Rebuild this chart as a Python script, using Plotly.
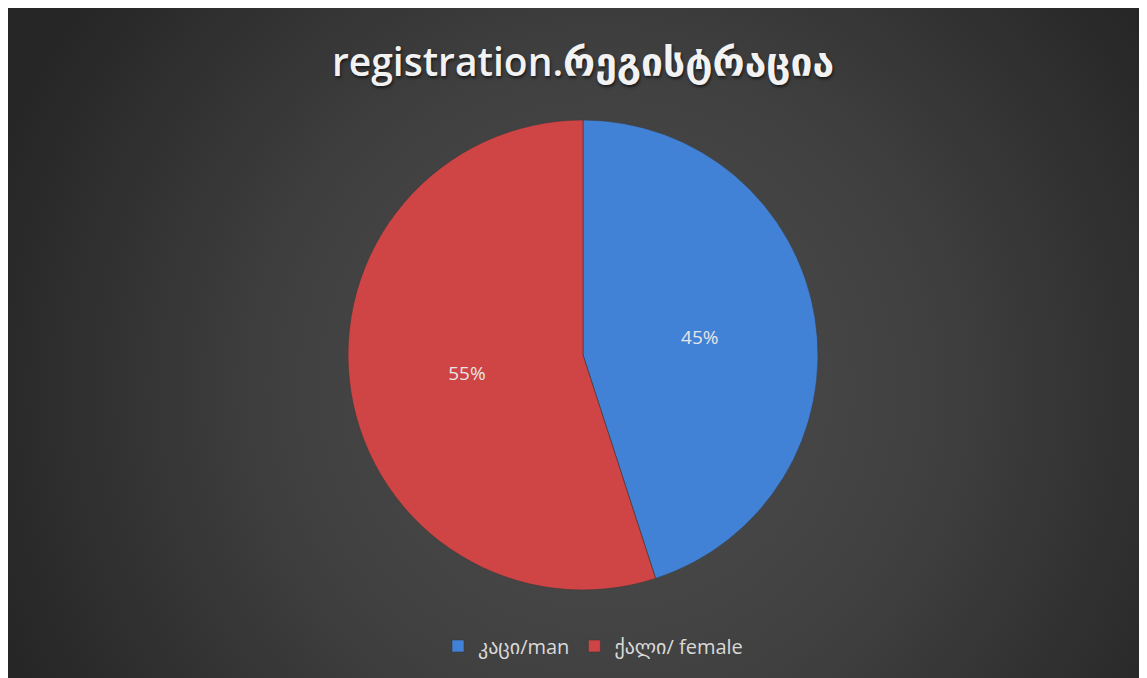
import plotly.graph_objects as go
import base64

labels = ["კაცი/man", "ქალი/ female"]
values = [45, 55]
colors = ["#4282d6", "#cf4444"]
title_text = "registration.რეგისტრაცია"

W, H = 1147, 678

svg = f'''<svg xmlns="http://www.w3.org/2000/svg" width="{W}" height="{H}" viewBox="0 0 {W} {H}" preserveAspectRatio="none">
<defs><radialGradient id="g" gradientUnits="userSpaceOnUse" cx="600" cy="380" r="650">
<stop offset="0" stop-color="#4d4d4d"/><stop offset="0.5" stop-color="#404040"/><stop offset="1" stop-color="#262626"/></radialGradient></defs>
<rect x="0" y="0" width="{W}" height="{H}" fill="url(#g)"/></svg>'''
src = "data:image/svg+xml;base64," + base64.b64encode(svg.encode()).decode()

# page body offset is ~8px; positions below are figure coordinates
cx, cy, r = 575, 347, 235

fig = go.Figure(go.Pie(
    labels=labels, values=values, sort=False, direction="clockwise", rotation=0,
    marker=dict(colors=colors, line=dict(color="#3a3a3a", width=0.6)),
    textinfo="percent", textposition="inside", insidetextorientation="horizontal",
    textfont=dict(color="#e6e6e6", size=19, family="Open Sans, DejaVu Sans"),
    domain=dict(x=[(cx - r) / W, (cx + r) / W], y=[(H - cy - r) / H, (H - cy + r) / H]),
    hoverinfo="label+percent",
))

fig.update_layout(
    width=W, height=H, autosize=False,
    margin=dict(l=0, r=0, t=0, b=0),
    paper_bgcolor="#333333", plot_bgcolor="#333333",
    images=[dict(source=src, xref="paper", yref="paper", x=0, y=1,
                 sizex=1, sizey=1, sizing="stretch",
                 xanchor="left", yanchor="top", layer="below")],
    title=dict(text=title_text, x=575 / W, xanchor="center",
               y=1 - 54 / H, yanchor="middle",
               font=dict(size=39, color="#f2f2f2", family="Open Sans, DejaVu Sans",
                         weight=600, shadow="1px 2px 3px #1a1a1a")),
    legend=dict(orientation="h", x=585 / W, xanchor="center", y=1 - 638 / H, yanchor="middle",
                font=dict(size=20, color="#d9d9d9", family="Open Sans, DejaVu Sans"),
                bgcolor="rgba(0,0,0,0)"),
    showlegend=True,
)

fig.write_html("out.html")
